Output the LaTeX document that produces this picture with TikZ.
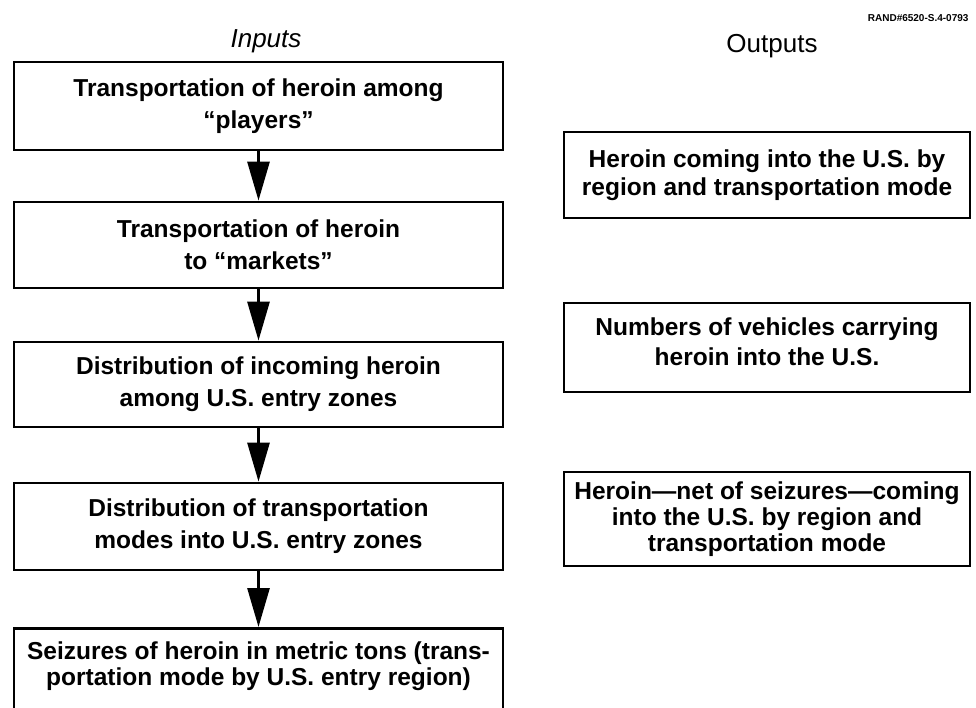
\documentclass[tikz,border=0pt]{standalone}
\usepackage{fontspec}
\setmainfont{Liberation Sans}
\usetikzlibrary{arrows.meta}

\tikzset{
  inbox/.style={draw, line width=2.8pt, minimum width=489pt, align=center, inner sep=0pt,
    font=\bfseries\fontsize{24.5}{32}\selectfont},
  outbox/.style={draw, line width=2.8pt, minimum width=406pt, align=center, inner sep=0pt,
    font=\bfseries\fontsize{24.5}{28}\selectfont},
  flow/.style={draw, line width=2.8pt, -{Triangle[length=39pt,width=22pt]}}
}

\begin{document}
\begin{tikzpicture}[x=1pt,y=-1pt]
\useasboundingbox (0,0) rectangle (976,707);
\clip (0,0) rectangle (976,707);

\node[anchor=base east, font=\bfseries\fontsize{10}{12}\selectfont] (tag) at (972,21) {RAND\#6520-S.4-0793};
\node[anchor=base, font=\itshape\fontsize{26}{30}\selectfont] (inputs) at (266,47) {Inputs};
\node[anchor=base, font=\fontsize{26}{30}\selectfont] (outputs) at (772,52) {Outputs};

% inputs column
\node[inbox, minimum height=88pt] (1) at (258.5,106) {Transportation of heroin among\\“players”};
\node[inbox, minimum height=86pt] (2) at (258.5,245) {Transportation of heroin\\to “markets”};
\node[inbox, minimum height=85pt] (3) at (258.5,384.5) {Distribution of incoming heroin\\among U.S. entry zones};
\node[inbox, minimum height=87pt] (4) at (258.5,526.5) {Distribution of transportation\\modes into U.S. entry zones};
\node[inbox, minimum height=100pt, anchor=north, font=\bfseries\fontsize{24.5}{26}\selectfont, text depth=30pt] (5) at (258.5,627) {Seizures of heroin in metric tons (trans-\\portation mode by U.S. entry region)};

% outputs column
\node[outbox, minimum height=86pt] (a) at (767,175) {Heroin coming into the U.S. by\\region and transportation mode};
\node[outbox, minimum height=89pt, font=\bfseries\fontsize{24.5}{30}\selectfont, text depth=12pt] (b) at (767,347.5) {Numbers of vehicles carrying\\heroin into the U.S.};
\node[outbox, minimum height=94pt, font=\bfseries\fontsize{24.5}{26}\selectfont] (c) at (767,519) {Heroin—net of seizures—coming\\into the U.S. by region and\\transportation mode};

\path[flow] (1) -- (2);
\path[flow] (2) -- (3);
\path[flow] (3) -- (4);
\path[flow] (4) -- (5);
\end{tikzpicture}
\end{document}
